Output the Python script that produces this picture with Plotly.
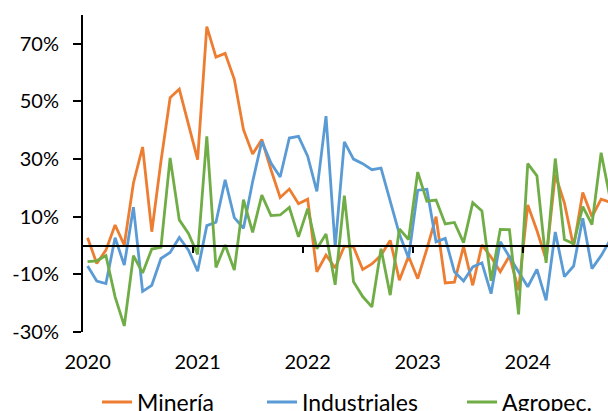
import plotly.graph_objects as go

# ---- data ----
years = [2020, 2021, 2022, 2023, 2024]
months = [f"{y}-{m:02d}" for y in years for m in range(1, 13)][:58]

mineria = [2.7, -6.2, -1.6, 7.1, 0.2, 21.7, 34.2, 4.8, 29.2, 51.3, 54.3, 42.0,
           29.8, 76.0, 65.4, 66.7, 57.7, 40.2, 31.8, 36.8, 26.3, 16.7, 19.6, 14.5,
           16.1, -9.1, -3.3, -7.8, -0.2, -0.5, -8.3, -6.4, -3.4, 1.8, -12.0, -3.7,
           -11.5, -1.2, 10.0, -13.0, -12.7, -0.3, -13.8, 0.2, -4.0, -9.1, -3.6, -15.5,
           14.1, 5.2, -4.9, 24.6, 14.7, -0.4, 18.4, 10.0, 16.1, 15.0]

industriales = [-7.1, -12.3, -13.2, 2.7, -6.8, 13.3, -15.9, -13.8, -4.5, -2.4, 2.8, -1.6,
                -8.9, 6.9, 8.1, 22.8, 9.7, 6.0, 22.2, 36.2, 28.6, 23.8, 37.3, 37.9,
                31.0, 18.8, 44.9, -0.5, 36.0, 30.0, 28.4, 26.3, 26.9, 15.5, 4.0, -4.3,
                19.2, 19.5, 1.3, 2.5, -9.1, -12.3, -7.4, -6.0, -16.7, 1.3, -4.0, -9.5,
                -14.3, -8.3, -19.0, 4.7, -10.8, -7.1, 9.5, -8.0, -3.5, 2.0]

agropec = [-5.6, -5.3, -3.5, -17.8, -27.9, -3.5, -9.5, -1.2, -0.6, 30.4, 8.9, 4.2,
           -3.1, 37.9, -7.6, 0.2, -8.5, 15.9, 4.6, 17.5, 10.4, 10.6, 13.2, 3.0,
           12.8, -1.1, 4.0, -13.6, 17.3, -12.6, -17.7, -21.3, -1.1, -17.2, 5.8, 2.1,
           25.5, 15.4, 15.8, 7.5, 8.0, 1.0, 14.9, 12.0, -12.2, 5.6, 5.5, -23.9,
           28.4, 24.2, -6.0, 30.2, 2.1, 0.6, 13.5, 7.3, 32.2, 16.0]

series_names = ["Minería", "Industriales", "Agropec."]
series_colors = ["#ED7D31", "#5B9BD5", "#70AD47"]

y_tick_vals = [-30, -10, 10, 30, 50, 70]
y_tick_text = ["-30%", "-10%", "10%", "30%", "50%", "70%"]
x_tick_vals = ["2020-01", "2021-01", "2022-01", "2023-01", "2024-01"]
x_tick_text = ["2020", "2021", "2022", "2023", "2024"]
year_boundaries = [11.5, 23.5, 35.5, 47.5]

FONT = "Lato"

fig = go.Figure()
legends = ["legend", "legend2", "legend3"]
for name, vals, col, lg in zip(series_names, [mineria, industriales, agropec], series_colors, legends):
    fig.add_trace(go.Scatter(x=months, y=vals, mode="lines", name=name,
                             line=dict(color=col, width=2.8), legend=lg,
                             hoverinfo="skip"))

# dummy trace to activate the zero-level axis carrying the year tick marks
fig.add_trace(go.Scatter(x=[None], y=[None], xaxis="x2", yaxis="y",
                         showlegend=False, hoverinfo="skip"))

x_range = [-0.5, 56.75]

leg_common = dict(orientation="h", yanchor="middle", y=-0.221, xanchor="left",
                  font=dict(family=FONT, size=23, color="#000000"),
                  bgcolor="rgba(0,0,0,0)", borderwidth=0)

fig.update_layout(
    width=608, height=411,
    margin=dict(l=83, r=0, t=15, b=79, autoexpand=False),
    paper_bgcolor="white", plot_bgcolor="white",
    font=dict(family=FONT, size=20, color="#000000"),
    xaxis=dict(type="category", range=x_range, tickvals=x_tick_vals, ticktext=x_tick_text,
               showline=False, showgrid=False, zeroline=False, ticks="",
               ticklabelstandoff=16, tickfont=dict(family=FONT, size=20, color="#000000")),
    xaxis2=dict(overlaying="x", anchor="free", position=30 / 110, range=x_range,
                showline=True, linecolor="#000000", linewidth=2,
                ticks="outside", tickvals=year_boundaries, ticklen=6, tickwidth=2,
                tickcolor="#000000", showticklabels=False, showgrid=False, zeroline=False),
    yaxis=dict(range=[-30, 80], tickvals=y_tick_vals, ticktext=y_tick_text,
               showline=True, linecolor="#000000", linewidth=2,
               ticks="outside", ticklen=8, tickwidth=2, tickcolor="#000000",
               showgrid=False, zeroline=False, ticklabelstandoff=10,
               tickfont=dict(family=FONT, size=20, color="#000000")),
    legend=dict(x=(97 - 83) / 525, **leg_common),
    legend2=dict(x=(262 - 83) / 525, **leg_common),
    legend3=dict(x=(462 - 83) / 525, **leg_common),
)

fig.write_html("out.html")
